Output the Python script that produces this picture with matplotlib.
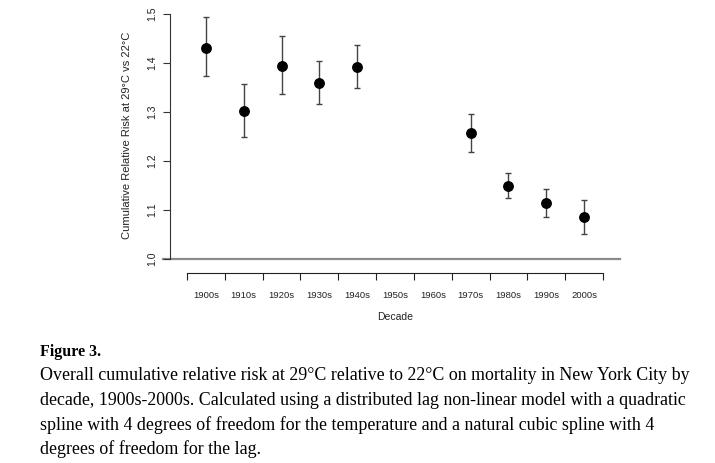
import numpy as np
import matplotlib
matplotlib.use("Agg")
import matplotlib.pyplot as plt

# data (1950s and 1960s have no estimate)
decades = ["1900s", "1910s", "1920s", "1930s", "1940s", "1950s",
           "1960s", "1970s", "1980s", "1990s", "2000s"]
rr = [1.431, 1.303, 1.394, 1.360, 1.392, np.nan, np.nan, 1.257, 1.149, 1.114, 1.086]
rr_low = [1.373, 1.250, 1.336, 1.316, 1.349, np.nan, np.nan, 1.219, 1.124, 1.086, 1.050]
rr_high = [1.493, 1.358, 1.455, 1.405, 1.436, np.nan, np.nan, 1.295, 1.175, 1.143, 1.121]
y_ticks = [1.0, 1.1, 1.2, 1.3, 1.4, 1.5]

W, H = 715, 463
fig = plt.figure(figsize=(W / 100, H / 100), dpi=100)
fig.patch.set_facecolor("white")

# axes placed in pixel terms: x from 163 to 620 px, y=1.5 at 14 px, y=1.0 at 259 px
ax = fig.add_axes([163 / W, 1 - 259 / H, (620 - 163) / W, (259 - 14) / H])
ax.set_xlim(-0.135, 11.95)
ax.set_ylim(1.0, 1.5)

x = np.arange(1, len(decades) + 1)
rr = np.array(rr)
lo = rr - np.array(rr_low)
hi = np.array(rr_high) - rr
ok = ~np.isnan(rr)

ax.axhline(1.0, color="#8a8a8a", lw=1.6, zorder=1, clip_on=False)
ax.errorbar(x[ok], rr[ok], yerr=[lo[ok], hi[ok]], fmt="o", color="black",
            ms=6.8, ecolor="#444444", elinewidth=1.0, capsize=2.3, capthick=1.0,
            zorder=3, clip_on=False)

for s in ["top", "right"]:
    ax.spines[s].set_visible(False)
ax.spines["left"].set_position(("data", 0.05))
ax.spines["left"].set_bounds(1.0, 1.5)
ax.spines["left"].set_color("#333333")
ax.spines["left"].set_linewidth(0.8)
ax.spines["bottom"].set_position(("outward", 10))
ax.spines["bottom"].set_bounds(0.5, 11.5)
ax.spines["bottom"].set_color("#222222")
ax.spines["bottom"].set_linewidth(0.8)

ax.set_yticks(y_ticks)
ax.set_yticklabels([f"{v:.1f}" for v in y_ticks], rotation=90, va="center",
                   fontsize=7.5, family="Liberation Sans", color="#222222")
ax.tick_params(axis="y", length=5, width=0.8, color="#333333", pad=4)

ax.set_xticks(x)
ax.set_xticklabels(decades, fontsize=6.8, family="Liberation Sans", color="#222222")
ax.set_xticks(np.arange(0.5, 12, 1.0), minor=True)
ax.tick_params(axis="x", which="major", length=0, pad=13)
ax.tick_params(axis="x", which="minor", length=5, width=0.8, color="#222222")

fig.text(127 / W, 1 - 135 / H, "Cumulative Relative Risk at 29°C vs 22°C", rotation=90,
         ha="center", va="center", fontsize=8, family="Liberation Sans", color="#222222")
fig.text(395 / W, 1 - 317 / H, "Decade", ha="center", va="center",
         fontsize=7.5, family="Liberation Sans", color="#222222")

# caption
fig.text(40 / W, 1 - 352 / H, "Figure 3.", ha="left", va="center", fontsize=11.5,
         family="Liberation Serif", weight="bold")
caption = [
    "Overall cumulative relative risk at 29°C relative to 22°C on mortality in New York City by",
    "decade, 1900s-2000s. Calculated using a distributed lag non-linear model with a quadratic",
    "spline with 4 degrees of freedom for the temperature and a natural cubic spline with 4",
    "degrees of freedom for the lag.",
]
for i, line in enumerate(caption):
    fig.text(40 / W, 1 - (376 + 24.5 * i) / H, line, ha="left", va="center",
             fontsize=12.9, family="Liberation Serif")

fig.savefig("out.png", dpi=100)
